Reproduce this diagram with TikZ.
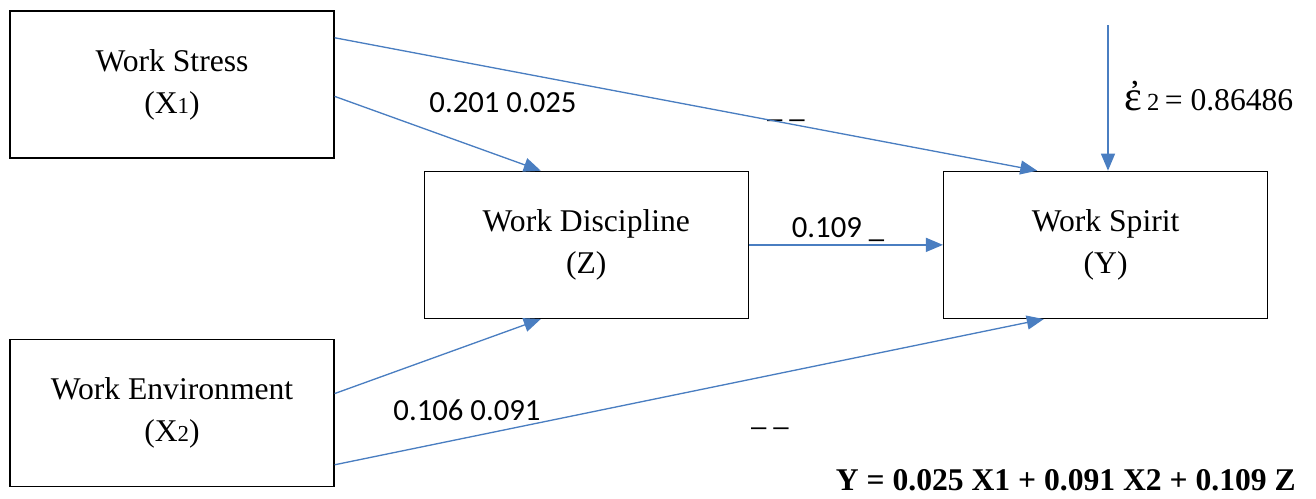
\documentclass[tikz,border=0pt]{standalone}
\usepackage{fontspec}
\setmainfont{Liberation Serif}
\newfontfamily\numfont{Carlito}
\usetikzlibrary{arrows.meta,positioning,calc}
\definecolor{arrowblue}{RGB}{74,126,193}
\tikzset{
  var/.style={draw, line width=0.8pt, minimum width=6.48cm, minimum height=2.94cm, align=center, font=\fontsize{18}{24}\selectfont},
  coef/.style={anchor=base, font=\numfont\fontsize{17.5}{20}\selectfont},
  line/.style={-{Triangle[length=3.4mm,width=2.8mm]}, line width=0.75pt, draw=arrowblue, fill=arrowblue}
}

\begin{document}
\begin{tikzpicture}[x=0.02cm, y=-0.02cm]
  \useasboundingbox (0,0) rectangle (1316,498);
  \node[var] (stress) at (172,84.5) {Work Stress\\(X{\fontsize{13}{13}\selectfont 1})};
  \node[var, below right=0.24cm and 1.78cm of stress] (discipline) {Work Discipline\\(Z)};
  \node[var, right=3.88cm of discipline] (spirit) {Work Spirit\\(Y)};
  \node[var, below=3.6cm of stress] (environment) {Work Environment\\(X{\fontsize{13}{13}\selectfont 2})};
  \coordinate (err) at (1108,25);

  \node[coef] (c1) at (503,112) {0.201 0.025};
  \node[coef] (c2) at (838,237) {0.109 \_};
  \node[coef] (c3) at (467,420) {0.106 0.091};
  \node[coef] (d1) at (786,117) {\_ \_};
  \node[coef] (d2) at (770,425) {\_ \_};
  \node[anchor=base west, font=\fontsize{18}{20}\selectfont] (eps) at (1118,110) {{\fontsize{24}{24}\selectfont ἐ}\,{\fontsize{14}{14}\selectfont 2}\,= 0.86486};
  \node[anchor=base east, font=\bfseries\fontsize{18}{20}\selectfont] (eq) at (1302,490) {Y = 0.025 X1 + 0.091 X2 + 0.109 Z};

  \draw[line] ($(stress.north east)!0.185!(stress.south east)$) -- ($(spirit.north west)!0.29!(spirit.north east)$);
  \draw[line] ($(stress.north east)!0.58!(stress.south east)$) -- ($(discipline.north west)!0.36!(discipline.north east)$);
  \draw[line] (discipline.east) -- (spirit.west);
  \draw[line] ($(environment.north east)!0.37!(environment.south east)$) -- ($(discipline.south west)!0.36!(discipline.south east)$);
  \draw[line] ($(environment.north east)!0.85!(environment.south east)$) -- ($(spirit.south west)!0.31!(spirit.south east)$);
  \draw[line] (err) -- (err |- spirit.north);
\end{tikzpicture}
\end{document}
